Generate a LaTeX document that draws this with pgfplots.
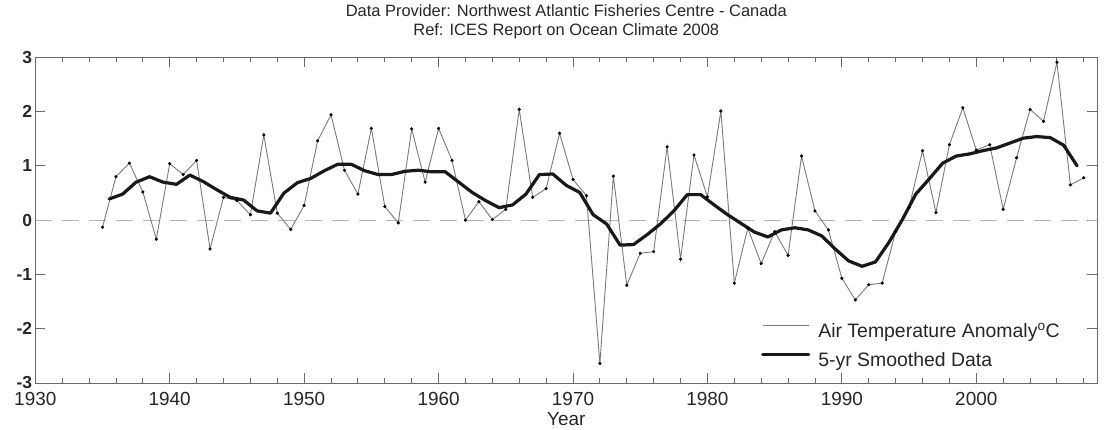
\documentclass[border=0pt]{standalone}
\usepackage{fontspec}
\setmainfont{Liberation Sans}
\usepackage{pgfplots}
\usepackage{pgfplotstable}
\pgfplotsset{compat=1.18}
\definecolor{axisgray}{HTML}{6A6A6A}
\definecolor{rawgray}{HTML}{7A7A7A}
\definecolor{zerogray}{HTML}{B4B4B4}
\definecolor{labelcol}{HTML}{262626}

\pgfplotstableread{
year val
1935 -0.13
1936 0.80
1937 1.05
1938 0.52
1939 -0.35
1940 1.04
1941 0.84
1942 1.10
1943 -0.53
1944 0.42
1945 0.36
1946 0.10
1947 1.57
1948 0.13
1949 -0.17
1950 0.27
1951 1.46
1952 1.94
1953 0.92
1954 0.48
1955 1.69
1956 0.25
1957 -0.05
1958 1.68
1959 0.70
1960 1.69
1961 1.10
1962 0.00
1963 0.34
1964 0.01
1965 0.20
1966 2.04
1967 0.42
1968 0.58
1969 1.60
1970 0.75
1971 0.45
1972 -2.64
1973 0.81
1974 -1.20
1975 -0.61
1976 -0.58
1977 1.35
1978 -0.72
1979 1.20
1980 0.43
1981 2.01
1982 -1.16
1983 -0.15
1984 -0.80
1985 -0.21
1986 -0.65
1987 1.18
1988 0.17
1989 -0.18
1990 -1.07
1991 -1.47
1992 -1.19
1993 -1.16
1994 -0.21
1995 0.23
1996 1.28
1997 0.14
1998 1.39
1999 2.07
2000 1.29
2001 1.39
2002 0.20
2003 1.15
2004 2.04
2005 1.82
2006 2.91
2007 0.65
2008 0.78
}\rawdata

\pgfplotstableread{
year val
1935.5 0.39
1936.5 0.48
1937.5 0.70
1938.5 0.80
1939.5 0.70
1940.5 0.66
1941.5 0.83
1942.5 0.71
1943.5 0.56
1944.5 0.42
1945.5 0.37
1946.5 0.17
1947.5 0.13
1948.5 0.50
1949.5 0.69
1950.5 0.77
1951.5 0.91
1952.5 1.03
1953.5 1.03
1954.5 0.91
1955.5 0.84
1956.5 0.84
1957.5 0.90
1958.5 0.92
1959.5 0.89
1960.5 0.89
1961.5 0.70
1962.5 0.51
1963.5 0.36
1964.5 0.23
1965.5 0.28
1966.5 0.48
1967.5 0.84
1968.5 0.85
1969.5 0.64
1970.5 0.51
1971.5 0.10
1972.5 -0.07
1973.5 -0.46
1974.5 -0.45
1975.5 -0.27
1976.5 -0.07
1977.5 0.17
1978.5 0.47
1979.5 0.47
1980.5 0.28
1981.5 0.10
1982.5 -0.06
1983.5 -0.22
1984.5 -0.31
1985.5 -0.18
1986.5 -0.14
1987.5 -0.18
1988.5 -0.29
1989.5 -0.53
1990.5 -0.75
1991.5 -0.85
1992.5 -0.77
1993.5 -0.41
1994.5 0.01
1995.5 0.48
1996.5 0.76
1997.5 1.05
1998.5 1.18
1999.5 1.22
2000.5 1.28
2001.5 1.33
2002.5 1.42
2003.5 1.51
2004.5 1.54
2005.5 1.52
2006.5 1.38
2007.5 1.00
}\smoothdata

\begin{document}
\begin{tikzpicture}
\begin{axis}[
  scale only axis,
  width=1062bp, height=325.7bp,
  xmin=1930, xmax=2009,
  ymin=-3, ymax=3,
  xtick={1930,1940,...,2000},
  minor xtick={1932,1934,...,2008},
  ytick={-3,-2,...,3},
  major tick length=10bp,
  minor tick length=5bp,
  tick align=inside,
  axis line style={axisgray, line width=0.9bp},
  every tick/.style={axisgray, line width=0.9bp},
  every minor tick/.style={axisgray, line width=0.9bp},
  /pgf/number format/assume math mode=true,
  /pgf/number format/1000 sep={},
  xticklabel style={font=\fontsize{19}{19}\selectfont, text=labelcol, inner sep=0pt, anchor=north, yshift=-9bp},
  yticklabel style={font=\bfseries\fontsize{17.5}{17.5}\selectfont, text=labelcol, inner sep=0pt, anchor=east, xshift=-3bp},
  xlabel={Year},
  xlabel style={at={(axis description cs:0.5,0)}, anchor=base, yshift=-42bp, font=\fontsize{19}{19}\selectfont, text=labelcol, inner sep=0pt},
  title={Data Provider: Northwest Atlantic Fisheries Centre - Canada\\Ref: ICES Report on Ocean Climate 2008},
  title style={at={(axis description cs:0.5,1)}, anchor=south, yshift=12.5bp, inner sep=0pt, align=center, font=\fontsize{16.5}{19}\selectfont, text=labelcol},
  legend cell align=left,
  legend style={at={(axis description cs:0.6833,0.1833)}, anchor=north west, draw=none, fill=none, inner sep=0pt, row sep=11.4bp, column sep=8bp,
    nodes={inner sep=0pt, text height=14bp, text depth=4bp, font=\fontsize{19.5}{19.5}\selectfont, text=labelcol}},
  legend image code/.code={\draw[#1] (0bp,7bp) -- (46bp,7bp);},
]
\addplot[zerogray, line width=0.9bp, dash pattern=on 17bp off 10bp, forget plot] coordinates {(1930,0) (2009,0)};
\addplot[rawgray, line width=0.9bp, no markers] table[x=year, y=val] {\rawdata};
\addlegendentry{Air Temperature Anomaly\textsuperscript{o}C}
\addplot[black!90, line width=3.2bp, line join=round, line cap=round, no markers] table[x=year, y=val] {\smoothdata};
\addlegendentry{5-yr Smoothed Data}
\addplot[only marks, mark=*, mark size=1.4bp, black, forget plot] table[x=year, y=val] {\rawdata};
\end{axis}
\path (current axis.south west) +(-35.3bp,-47bp) rectangle +(1069.7bp,383bp);
\end{tikzpicture}
\end{document}
